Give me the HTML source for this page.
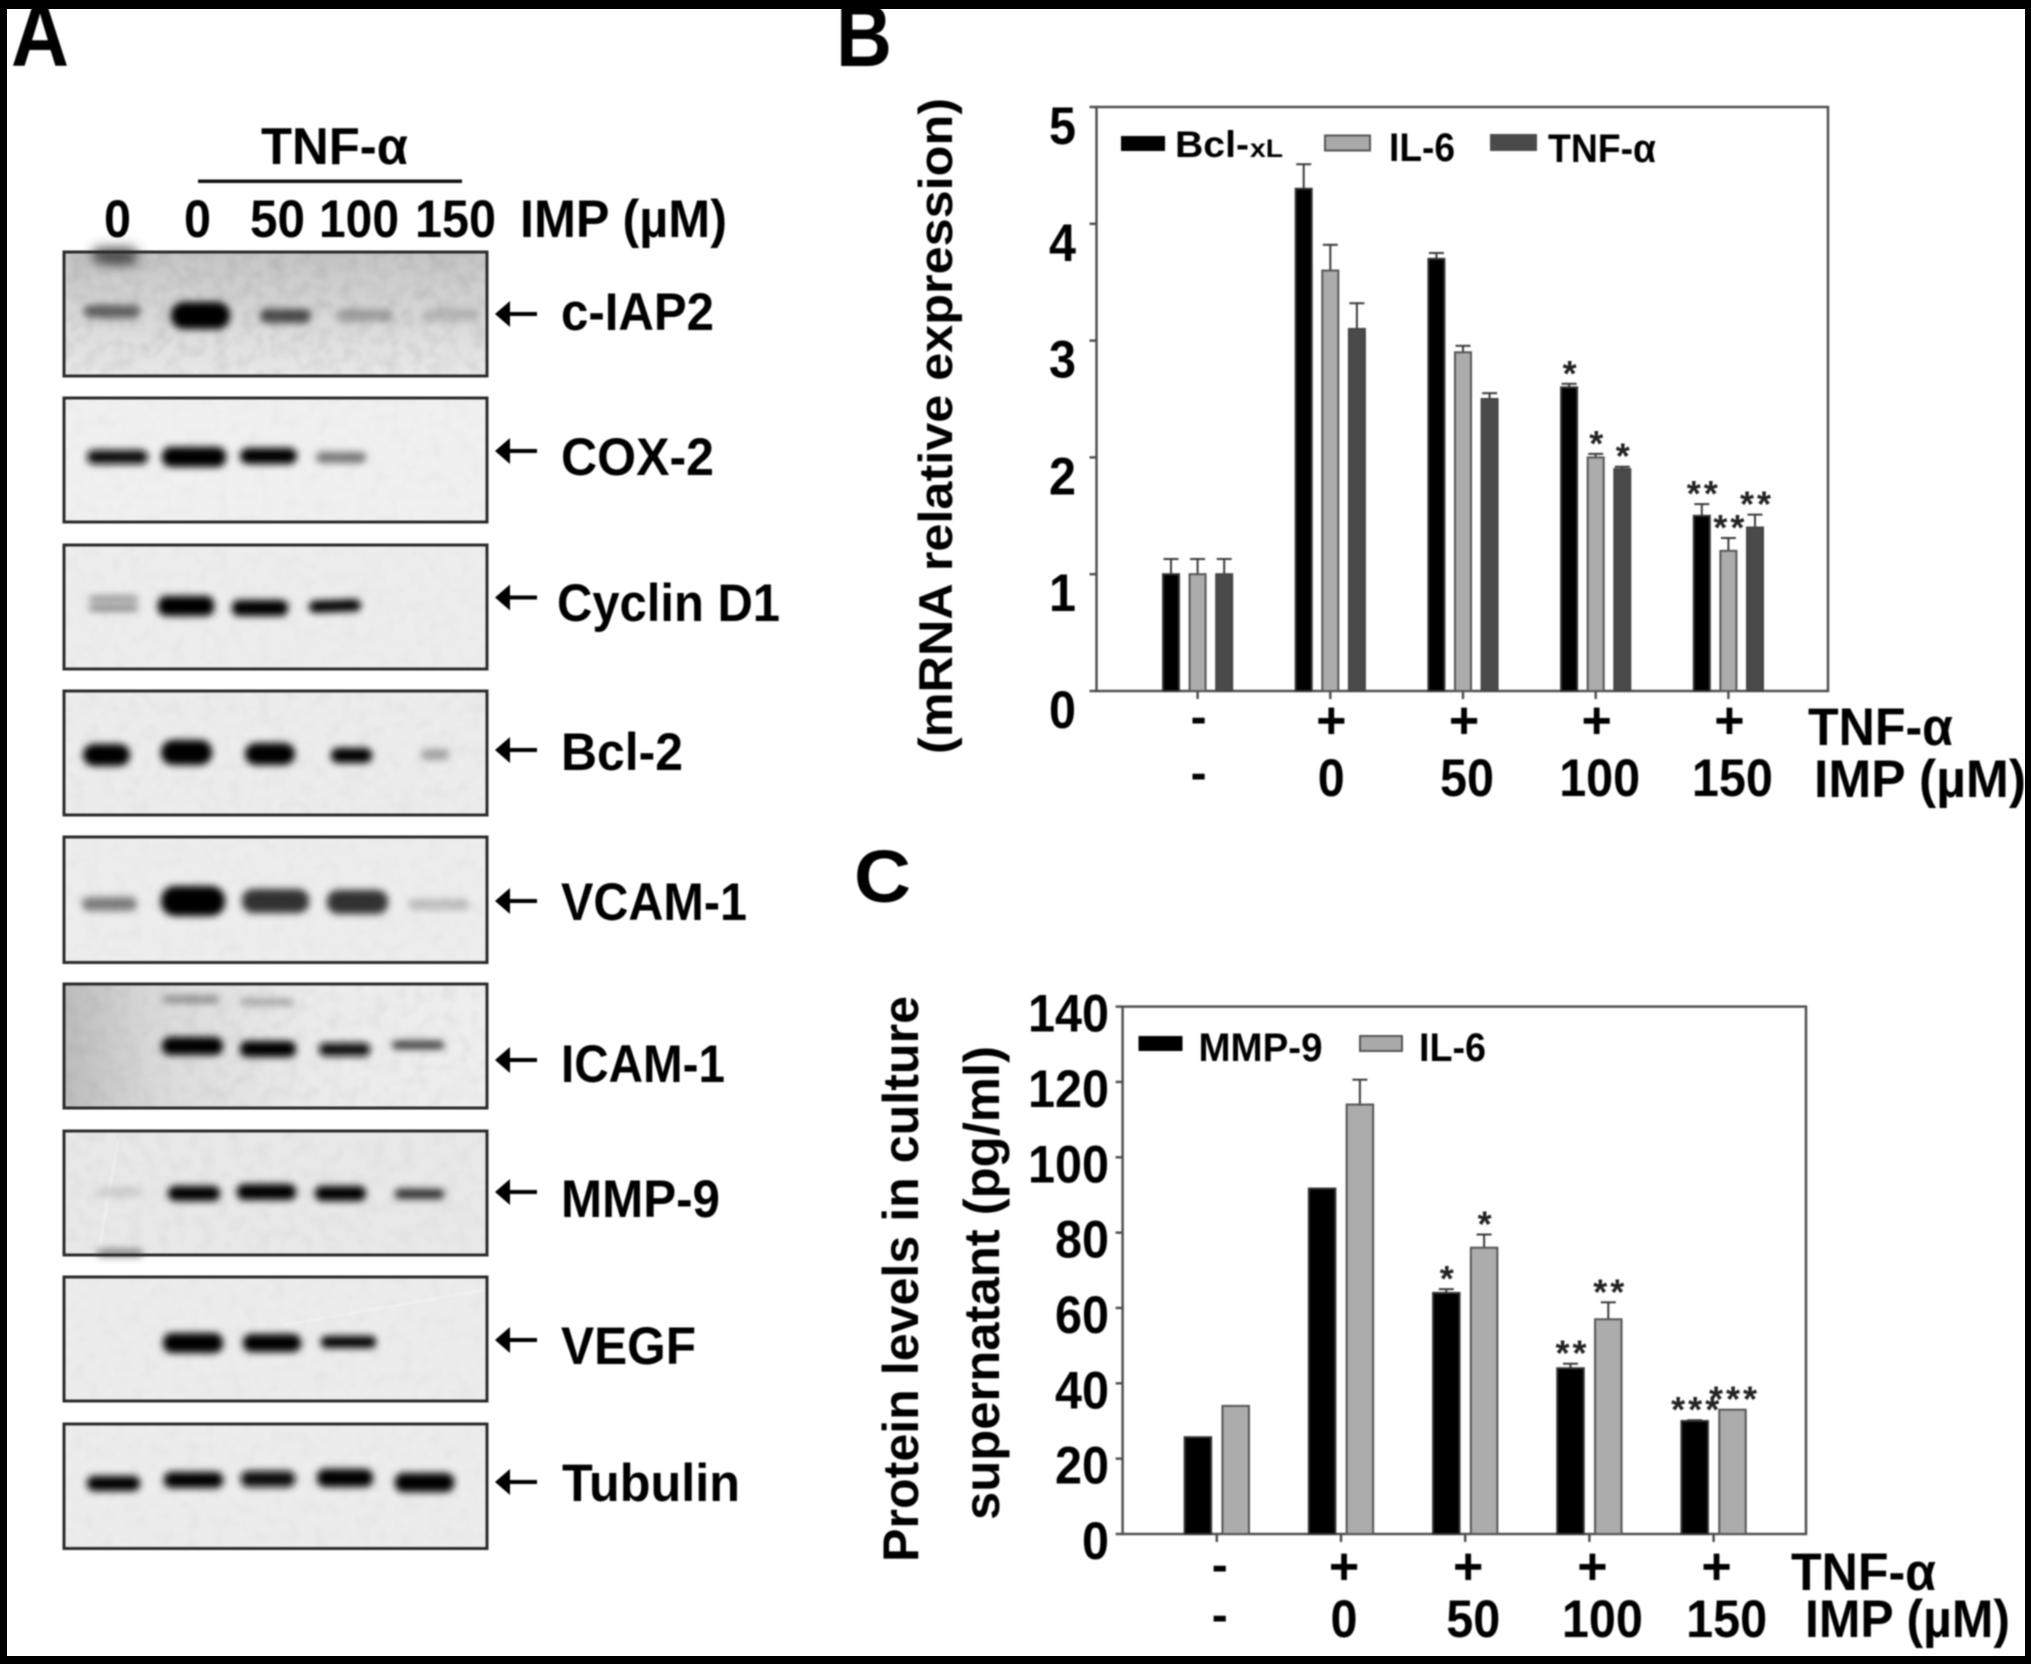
<!DOCTYPE html>
<html lang="en">
<head>
<meta charset="utf-8">
<title>Western blots and bar charts</title>
<style>
html,body{margin:0;padding:0;background:#fff}
svg{display:block}
text{font-family:"Liberation Sans",sans-serif;font-weight:700;fill:#000}
.soft{filter:blur(.8px)}
</style>
</head>
<body>
<svg id="figure" xmlns="http://www.w3.org/2000/svg" width="2031" height="1664" viewBox="0 0 2031 1664">
<defs>
<filter id="bandBlur" x="-40%" y="-200%" width="180%" height="500%"><feGaussianBlur stdDeviation="3.8"/></filter>
<filter id="smudge" x="-50%" y="-150%" width="200%" height="400%"><feGaussianBlur stdDeviation="6"/></filter>
<filter id="mottle" x="0" y="0" width="100%" height="100%"><feTurbulence type="fractalNoise" baseFrequency="0.07" numOctaves="2" seed="4"/><feColorMatrix type="matrix" values="0 0 0 0 0  0 0 0 0 0  0 0 0 0 0  1.1 0 0 0 -0.42"/></filter>
<linearGradient id="icamBg" x1="0" y1="0" x2="1" y2="0"><stop offset="0" stop-color="#bcbcbc"/><stop offset=".22" stop-color="#dadada"/><stop offset=".6" stop-color="#ebebeb"/><stop offset="1" stop-color="#eeeeee"/></linearGradient>
<linearGradient id="ciapBg" x1="0" y1="0" x2="0" y2="1"><stop offset="0" stop-color="#c4c4c4"/><stop offset=".6" stop-color="#dadada"/><stop offset="1" stop-color="#e8e8e8"/></linearGradient>
</defs>
<rect width="2031" height="1664" fill="#fff"/>

<g id="panelA" class="soft">
<text x="11" y="66" font-size="90" textLength="58" lengthAdjust="spacingAndGlyphs">A</text>
<text x="261" y="164" font-size="52" textLength="147" lengthAdjust="spacingAndGlyphs">TNF-α</text>
<rect x="198" y="179.500" width="264" height="3.500" fill="#111"/>
<text x="104" y="237" font-size="53" textLength="27" lengthAdjust="spacingAndGlyphs">0</text>
<text x="184" y="237" font-size="53" textLength="27" lengthAdjust="spacingAndGlyphs">0</text>
<text x="250" y="237" font-size="53" textLength="55" lengthAdjust="spacingAndGlyphs">50</text>
<text x="319" y="237" font-size="53" textLength="80" lengthAdjust="spacingAndGlyphs">100</text>
<text x="415" y="237" font-size="53" textLength="81" lengthAdjust="spacingAndGlyphs">150</text>
<text x="520" y="237" font-size="53" textLength="207" lengthAdjust="spacingAndGlyphs">IMP (µM)</text>

<!-- c-IAP2 -->
<g>
<rect x="65" y="253" width="421" height="122" fill="url(#ciapBg)"/>
<rect x="92" y="248" width="46" height="16" rx="8" fill="#444" filter="url(#smudge)"/>
<rect x="84" y="305" width="56" height="13" rx="6" fill="#606060" filter="url(#bandBlur)"/>
<rect x="171" y="302" width="59" height="27" rx="13" fill="#000" filter="url(#bandBlur)"/>
<rect x="260" y="309" width="51" height="14" rx="7" fill="#484848" filter="url(#bandBlur)"/>
<rect x="337" y="309" width="56" height="12" rx="6" fill="#9c9c9c" filter="url(#bandBlur)"/>
<rect x="423" y="309" width="57" height="12" rx="6" fill="#b4b4b4" filter="url(#bandBlur)"/>
<rect x="65" y="253" width="421" height="122" filter="url(#mottle)" opacity=".13"/>
<rect x="64" y="252" width="423" height="124" fill="none" stroke="#2b2b2b" stroke-width="3"/>
</g>
<!-- COX-2 -->
<g>
<rect x="65" y="399" width="421" height="122" fill="#f0f0f0"/>
<rect x="87" y="450" width="61" height="14" rx="7" fill="#111" filter="url(#bandBlur)"/>
<rect x="162" y="447" width="64" height="20" rx="9" fill="#000" filter="url(#bandBlur)"/>
<rect x="240" y="448" width="57" height="16" rx="8" fill="#000" filter="url(#bandBlur)"/>
<rect x="316" y="452" width="50" height="11" rx="5" fill="#777" filter="url(#bandBlur)"/>
<rect x="65" y="399" width="421" height="122" filter="url(#mottle)" opacity=".04"/>
<rect x="64" y="398" width="423" height="124" fill="none" stroke="#2b2b2b" stroke-width="3"/>
</g>
<!-- Cyclin D1 -->
<g>
<rect x="65" y="546" width="421" height="122" fill="#ededed"/>
<rect x="89" y="596" width="49" height="6" rx="3" fill="#888" filter="url(#bandBlur)"/>
<rect x="89" y="605" width="49" height="6" rx="3" fill="#777" filter="url(#bandBlur)"/>
<rect x="158" y="596" width="56" height="20" rx="8" fill="#000" filter="url(#bandBlur)"/>
<rect x="232" y="600" width="56" height="16" rx="7" fill="#000" filter="url(#bandBlur)"/>
<rect x="309" y="600" width="52" height="12" rx="6" fill="#000" filter="url(#bandBlur)" transform="rotate(-2 335 606)"/>
<rect x="65" y="546" width="421" height="122" filter="url(#mottle)" opacity=".04"/>
<rect x="64" y="545" width="423" height="124" fill="none" stroke="#2b2b2b" stroke-width="3"/>
</g>
<!-- Bcl-2 -->
<g>
<rect x="65" y="692" width="421" height="122" fill="#ececec"/>
<rect x="83" y="744" width="47" height="22" rx="11" fill="#000" filter="url(#bandBlur)"/>
<rect x="161" y="740" width="51" height="25" rx="12" fill="#000" filter="url(#bandBlur)"/>
<rect x="245" y="743" width="50" height="22" rx="11" fill="#000" filter="url(#bandBlur)"/>
<rect x="331" y="748" width="41" height="15" rx="7" fill="#000" filter="url(#bandBlur)"/>
<rect x="421" y="749" width="28" height="11" rx="5" fill="#a0a0a0" filter="url(#bandBlur)"/>
<rect x="65" y="692" width="421" height="122" filter="url(#mottle)" opacity=".05"/>
<rect x="64" y="691" width="423" height="124" fill="none" stroke="#2b2b2b" stroke-width="3"/>
</g>
<!-- VCAM-1 -->
<g>
<rect x="65" y="838" width="421" height="123" fill="#ededed"/>
<rect x="82" y="897" width="55" height="14" rx="7" fill="#7c7c7c" filter="url(#bandBlur)"/>
<rect x="161" y="886" width="64" height="30" rx="14" fill="#000" filter="url(#bandBlur)"/>
<rect x="242" y="889" width="67" height="24" rx="11" fill="#333" filter="url(#bandBlur)"/>
<rect x="327" y="890" width="61" height="24" rx="11" fill="#333" filter="url(#bandBlur)"/>
<rect x="408" y="899" width="61" height="11" rx="5" fill="#bcbcbc" filter="url(#bandBlur)"/>
<rect x="65" y="838" width="421" height="123" filter="url(#mottle)" opacity=".04"/>
<rect x="64" y="837" width="423" height="125.500" fill="none" stroke="#2b2b2b" stroke-width="3"/>
</g>
<!-- ICAM-1 -->
<g>
<rect x="65" y="985" width="421" height="122" fill="url(#icamBg)"/>
<rect x="163" y="996" width="56" height="7" rx="3" fill="#888" filter="url(#bandBlur)"/>
<rect x="240" y="999" width="53" height="6" rx="3" fill="#999" filter="url(#bandBlur)"/>
<rect x="162" y="1037" width="61" height="18" rx="8" fill="#000" filter="url(#bandBlur)"/>
<rect x="240" y="1041" width="56" height="16" rx="7" fill="#000" filter="url(#bandBlur)"/>
<rect x="319" y="1043" width="51" height="13" rx="6" fill="#0c0c0c" filter="url(#bandBlur)"/>
<rect x="392" y="1041" width="52" height="8" rx="4" fill="#333" filter="url(#bandBlur)"/>
<rect x="65" y="985" width="421" height="122" filter="url(#mottle)" opacity=".07"/>
<rect x="64" y="984" width="423" height="124" fill="none" stroke="#2b2b2b" stroke-width="3"/>
</g>
<!-- MMP-9 -->
<g>
<rect x="65" y="1132" width="421" height="122" fill="#e8e8e8"/>
<path d="M118 1140 L100 1245" stroke="#f2f2f2" stroke-width="3" fill="none" opacity=".6"/>
<rect x="97" y="1187" width="46" height="10" rx="5" fill="#cccccc" filter="url(#bandBlur)"/>
<rect x="168" y="1186" width="52" height="15" rx="7" fill="#000" filter="url(#bandBlur)"/>
<rect x="237" y="1184" width="59" height="16" rx="7" fill="#000" filter="url(#bandBlur)"/>
<rect x="315" y="1186" width="51" height="15" rx="7" fill="#000" filter="url(#bandBlur)"/>
<rect x="395" y="1189" width="49" height="10" rx="4" fill="#2c2c2c" filter="url(#bandBlur)"/>
<rect x="97" y="1249" width="46" height="8" rx="4" fill="#888" filter="url(#bandBlur)"/>
<rect x="65" y="1132" width="421" height="122" filter="url(#mottle)" opacity=".05"/>
<rect x="64" y="1131" width="423" height="124" fill="none" stroke="#2b2b2b" stroke-width="3"/>
</g>
<!-- VEGF -->
<g>
<rect x="65" y="1278" width="421" height="122" fill="#ececec"/>
<path d="M285 1325 L484 1290" stroke="#f6f6f6" stroke-width="2" fill="none" opacity=".6"/>
<rect x="163" y="1333" width="60" height="20" rx="9" fill="#000" filter="url(#bandBlur)"/>
<rect x="243" y="1334" width="58" height="18" rx="8" fill="#000" filter="url(#bandBlur)"/>
<rect x="321" y="1336" width="55" height="12" rx="5" fill="#000" filter="url(#bandBlur)"/>
<rect x="65" y="1278" width="421" height="122" filter="url(#mottle)" opacity=".04"/>
<rect x="64" y="1277" width="423" height="124" fill="none" stroke="#2b2b2b" stroke-width="3"/>
</g>
<!-- Tubulin -->
<g>
<rect x="65" y="1425" width="421" height="122" fill="#ececec"/>
<rect x="87" y="1476" width="53" height="15" rx="7" fill="#000" filter="url(#bandBlur)"/>
<rect x="164" y="1472" width="59" height="16" rx="7" fill="#000" filter="url(#bandBlur)"/>
<rect x="241" y="1471" width="54" height="16" rx="7" fill="#0a0a0a" filter="url(#bandBlur)"/>
<rect x="317" y="1469" width="56" height="18" rx="8" fill="#000" filter="url(#bandBlur)"/>
<rect x="395" y="1473" width="59" height="19" rx="8" fill="#000" filter="url(#bandBlur)"/>
<rect x="65" y="1425" width="421" height="122" filter="url(#mottle)" opacity=".04"/>
<rect x="64" y="1424" width="423" height="124.500" fill="none" stroke="#2b2b2b" stroke-width="3"/>
</g>

<!-- arrows -->
<path d="M495 314 L510 301 L510 312 L537 312 L537 316 L510 316 L510 327 Z" fill="#000"/>
<path d="M495 451 L510 438 L510 449 L537 449 L537 453 L510 453 L510 464 Z" fill="#000"/>
<path d="M495 597.500 L510 584.500 L510 595.500 L537 595.500 L537 599.500 L510 599.500 L510 610.500 Z" fill="#000"/>
<path d="M495 750 L510 737 L510 748 L537 748 L537 752 L510 752 L510 763 Z" fill="#000"/>
<path d="M495 901 L510 888 L510 899 L537 899 L537 903 L510 903 L510 914 Z" fill="#000"/>
<path d="M495 1060 L510 1047 L510 1058 L537 1058 L537 1062 L510 1062 L510 1073 Z" fill="#000"/>
<path d="M495 1192 L510 1179 L510 1190 L537 1190 L537 1194 L510 1194 L510 1205 Z" fill="#000"/>
<path d="M495 1340 L510 1327 L510 1338 L537 1338 L537 1342 L510 1342 L510 1353 Z" fill="#000"/>
<path d="M495 1482 L510 1469 L510 1480 L537 1480 L537 1484 L510 1484 L510 1495 Z" fill="#000"/>

<!-- protein labels -->
<text x="561" y="330" font-size="53" textLength="153" lengthAdjust="spacingAndGlyphs">c-IAP2</text>
<text x="561" y="475" font-size="53" textLength="153" lengthAdjust="spacingAndGlyphs">COX-2</text>
<text x="557" y="621" font-size="53" textLength="223" lengthAdjust="spacingAndGlyphs">Cyclin D1</text>
<text x="561" y="770" font-size="53" textLength="122" lengthAdjust="spacingAndGlyphs">Bcl-2</text>
<text x="561" y="920" font-size="53" textLength="186" lengthAdjust="spacingAndGlyphs">VCAM-1</text>
<text x="561" y="1082" font-size="53" textLength="164" lengthAdjust="spacingAndGlyphs">ICAM-1</text>
<text x="561" y="1217" font-size="53" textLength="159" lengthAdjust="spacingAndGlyphs">MMP-9</text>
<text x="561" y="1364" font-size="53" textLength="135" lengthAdjust="spacingAndGlyphs">VEGF</text>
<text x="562" y="1501" font-size="53" textLength="178" lengthAdjust="spacingAndGlyphs">Tubulin</text>
</g>

<g id="chartB" class="soft">
<text x="836" y="66" font-size="88" textLength="56" lengthAdjust="spacingAndGlyphs">B</text>
<text transform="translate(952,754) rotate(-90)" font-size="47" textLength="656" lengthAdjust="spacingAndGlyphs">(mRNA relative expression)</text>
<rect x="1121" y="136" width="44" height="15" fill="#000"/>
<text x="1175" y="157" font-size="37" textLength="74" lengthAdjust="spacingAndGlyphs">Bcl-</text>
<text x="1250" y="157" font-size="25" textLength="33" lengthAdjust="spacingAndGlyphs">xL</text>
<rect x="1325" y="135.500" width="45" height="15" fill="#a9a9a9" stroke="#555" stroke-width="2"/>
<text x="1389" y="161" font-size="40" textLength="66" lengthAdjust="spacingAndGlyphs">IL-6</text>
<rect x="1490" y="134" width="47" height="17" fill="#4a4a4a"/>
<text x="1548" y="162" font-size="40" textLength="108" lengthAdjust="spacingAndGlyphs">TNF-α</text>
<text x="1808" y="745" font-size="53" textLength="145" lengthAdjust="spacingAndGlyphs">TNF-α</text>
<text x="1814" y="797" font-size="53" textLength="212" lengthAdjust="spacingAndGlyphs">IMP (µM)</text>
</g>

<g id="chartC" class="soft">
<text x="854" y="902" font-size="74" textLength="57" lengthAdjust="spacingAndGlyphs">C</text>
<text transform="translate(918,1562) rotate(-90)" font-size="50" textLength="566" lengthAdjust="spacingAndGlyphs">Protein levels in culture</text>
<text transform="translate(999,1520) rotate(-90)" font-size="50" textLength="474" lengthAdjust="spacingAndGlyphs">supernatant (pg/ml)</text>
<rect x="1138.500" y="1036" width="44" height="15" fill="#000"/>
<text x="1198.500" y="1061" font-size="40" textLength="124" lengthAdjust="spacingAndGlyphs">MMP-9</text>
<rect x="1360" y="1036" width="42" height="15" fill="#a9a9a9" stroke="#555" stroke-width="2"/>
<text x="1419" y="1061" font-size="40" textLength="67" lengthAdjust="spacingAndGlyphs">IL-6</text>
<text x="1791" y="1590" font-size="53" textLength="145" lengthAdjust="spacingAndGlyphs">TNF-α</text>
<text x="1805" y="1637" font-size="53" textLength="205" lengthAdjust="spacingAndGlyphs">IMP (µM)</text>
</g>

<g id="frame">
<rect x="0" y="0" width="2031" height="9" fill="#000"/>
<rect x="0" y="1656" width="2031" height="8" fill="#000"/>
<rect x="0" y="0" width="7" height="1664" fill="#000"/>
<rect x="2025" y="0" width="6" height="1664" fill="#000"/>
</g>
</svg>

<script>
// Chart B data
const bTnfRow = ['-', '+', '+', '+', '+'];
const bImpRow = ['-', '0', '50', '100', '150'];
const bYTicks = [0, 1, 2, 3, 4, 5];
const bBclValues = [1, 4.3, 3.7, 2.6, 1.5];
const bIl6Values = [1, 3.6, 2.9, 2.0, 1.2];
const bTnfValues = [1, 3.1, 2.5, 1.9, 1.4];
const bBclErrors = [0.13, 0.21, 0.05, 0.03, 0.1];
const bIl6Errors = [0.13, 0.22, 0.055, 0.03, 0.11];
const bTnfErrors = [0.13, 0.22, 0.05, 0.02, 0.11];
const bBclStars = ['', '', '', '*', '**'];
const bIl6Stars = ['', '', '', '*', '**'];
const bTnfStars = ['', '', '', '*', '**'];

// Chart C data
const cTnfRow = ['-', '+', '+', '+', '+'];
const cImpRow = ['-', '0', '50', '100', '150'];
const cYTicks = [0, 20, 40, 60, 80, 100, 120, 140];
const cMmpValues = [25.7, 91.7, 64, 44, 30];
const cIl6Values = [34, 114, 76, 57, 33];
const cMmpErrors = [0, 0, 1, 1.2, 0.2];
const cIl6Errors = [0, 6.6, 3.5, 4.5, 0];
const cMmpStars = ['', '', '*', '**', '***'];
const cIl6Stars = ['', '', '*', '**', '***'];

const NS = 'http://www.w3.org/2000/svg';
function make(parent, tag, attrs, content) {
  const el = document.createElementNS(NS, tag);
  for (const k in attrs) el.setAttribute(k, attrs[k]);
  if (content !== undefined) el.textContent = content;
  parent.appendChild(el);
  return el;
}

function drawChart(group, cfg) {
  const yScale = v => cfg.bottom - (v / cfg.yMax) * (cfg.bottom - cfg.top);
  const xBand = i => cfg.firstCenter + i * cfg.pitch;
  const axisColor = '#4a4a4a';

  const plotBox = make(group, 'rect', {x: cfg.left, y: cfg.top, width: cfg.right - cfg.left, height: cfg.bottom - cfg.top, fill: 'none', stroke: axisColor, 'stroke-width': 2.4});
  
  

  cfg.yTicks.forEach(t => {
    const tick = make(group, 'line', {x1: cfg.left - 7, x2: cfg.left, y1: yScale(t), y2: yScale(t), stroke: axisColor, 'stroke-width': 2.4});
    
    
    const label = make(group, 'text', {x: cfg.yLabelRight, y: yScale(t) + cfg.yLabelDrop, 'text-anchor': 'end', 'font-size': 53, textLength: String(t).length * 27, lengthAdjust: 'spacingAndGlyphs'}, String(t));
    
    
  });

  cfg.tnfRow.forEach((s, i) => {
    const tick = make(group, 'line', {x1: xBand(i), x2: xBand(i), y1: cfg.bottom, y2: cfg.bottom + 8, stroke: axisColor, 'stroke-width': 2.4});
    
    
    const isPlus = s === '+';
    const tnfLabel = make(group, 'text', {x: xBand(i) + cfg.rowNudge, y: isPlus ? cfg.plusBaseline : cfg.minusBaseline, 'text-anchor': 'middle', 'font-size': isPlus ? 52 : 48}, s);
    
    
    const imp = cfg.impRow[i];
    const impAttrs = {x: xBand(i) + cfg.rowNudge + cfg.impShift(i), y: imp === '-' ? cfg.minus2Baseline : cfg.impBaseline, 'text-anchor': 'middle', 'font-size': imp === '-' ? 48 : 53};
    if (imp !== '-') {
      impAttrs.textLength = imp.length * 27;
      impAttrs.lengthAdjust = 'spacingAndGlyphs';
    }
    const impLabel = make(group, 'text', impAttrs, imp);
    
    
  });

  cfg.series.forEach((s, si) => {
    const offset = (si - (cfg.series.length - 1) / 2) * cfg.barPitch;
    s.values.forEach((v, i) => {
      const cx = xBand(i) + offset;
      const y = yScale(v);
      const err = s.errors[i];
      if (err > 0) {
        const yTop = yScale(v + err);
        const errStem = make(group, 'line', {x1: cx, x2: cx, y1: y, y2: yTop, stroke: '#3a3a3a', 'stroke-width': 2});
        
        
        const errCap = make(group, 'line', {x1: cx - 7.500, x2: cx + 7.500, y1: yTop, y2: yTop, stroke: '#3a3a3a', 'stroke-width': 2});
        
        
      }
      const bar = make(group, 'rect', {x: cx - cfg.barWidth / 2 + 1, y: y, width: cfg.barWidth - 2, height: cfg.bottom - y, fill: s.fill, stroke: s.stroke, 'stroke-width': 2});
      
      
      if (s.stars[i]) {
        const star = make(group, 'text', {x: cx + 2, y: yScale(v + err) - cfg.starGap + 22, 'text-anchor': 'middle', 'font-size': 36, 'letter-spacing': 3, style: 'font-weight:700;fill:#222'}, s.stars[i]);
        
        
      }
    });
  });
}

drawChart(document.getElementById('chartB'), {
  left: 1096.500, right: 1828, top: 107, bottom: 691, yMax: 5,
  firstCenter: 1197.600, pitch: 132.700, barWidth: 18, barPitch: 26.600,
  yTicks: bYTicks, yLabelRight: 1076, yLabelDrop: 37,
  tnfRow: bTnfRow, impRow: bImpRow, rowNudge: 1,
  impShift: i => (i > 1 ? 3 : 0),
  plusBaseline: 738, minusBaseline: 733, minus2Baseline: 789, impBaseline: 796,
  starGap: 20,
  series: [
    {name: 'bcl-xl', values: bBclValues, errors: bBclErrors, stars: bBclStars, fill: '#000', stroke: '#333'},
    {name: 'il-6', values: bIl6Values, errors: bIl6Errors, stars: bIl6Stars, fill: '#acacac', stroke: '#555'},
    {name: 'tnf-alpha', values: bTnfValues, errors: bTnfErrors, stars: bTnfStars, fill: '#4a4a4a', stroke: '#444'}
  ]
});

drawChart(document.getElementById('chartC'), {
  left: 1122.600, right: 1806, top: 1006.600, bottom: 1534, yMax: 140,
  firstCenter: 1216.800, pitch: 124.200, barWidth: 28.500, barPitch: 37.800,
  yTicks: cYTicks, yLabelRight: 1109, yLabelDrop: 25,
  tnfRow: cTnfRow, impRow: cImpRow, rowNudge: 3,
  impShift: i => (i > 2 ? 10 : i > 1 ? 5 : 0),
  plusBaseline: 1584, minusBaseline: 1581, minus2Baseline: 1631, impBaseline: 1637,
  starGap: 20,
  series: [
    {name: 'mmp-9', values: cMmpValues, errors: cMmpErrors, stars: cMmpStars, fill: '#000', stroke: '#333'},
    {name: 'il-6', values: cIl6Values, errors: cIl6Errors, stars: cIl6Stars, fill: '#acacac', stroke: '#555'}
  ]
});
</script>
</body>
</html>
